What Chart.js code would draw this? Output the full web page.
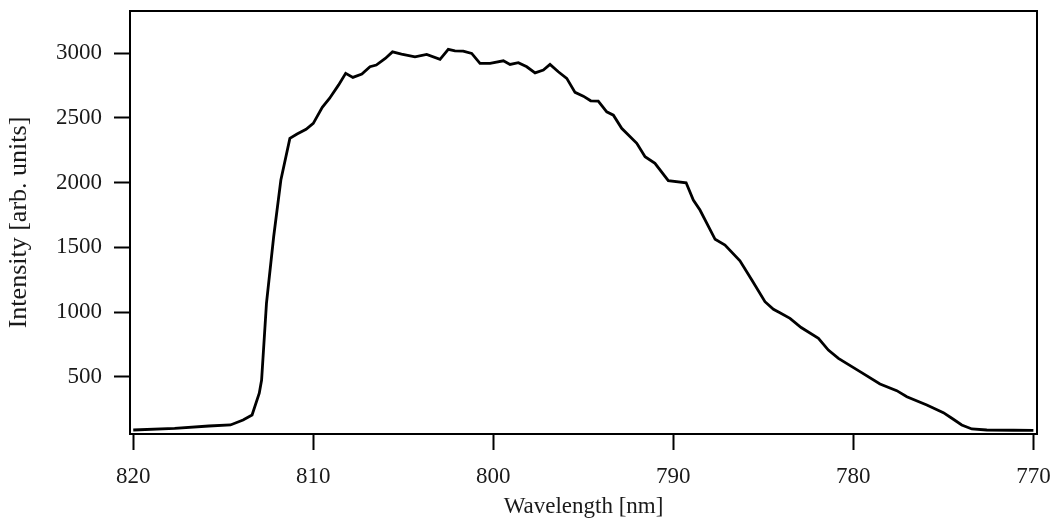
<!DOCTYPE html>
<html>
<head>
<meta charset="utf-8">
<script src="https://cdn.jsdelivr.net/npm/chart.js@4"></script>
<style>
  html, body { margin: 0; padding: 0; background: #fff; }
  canvas { display: block; }
</style>
</head>
<body>
<canvas id="spectrum-chart" width="1054" height="521"></canvas>
<script>
// wavelength in nm (decreasing to the right)
const wavelengths = [
  820.0, 817.7, 815.8, 814.6, 813.9, 813.4, 813.0, 812.87, 812.6, 812.2,
  811.8, 811.3, 810.9, 810.4, 810.0, 809.5, 809.1, 808.6, 808.2, 807.8,
  807.3, 806.85, 806.5, 806.0, 805.6, 805.1, 804.35, 803.7, 802.96, 802.5,
  802.13, 801.67, 801.2, 800.74, 800.18, 799.44, 799.07, 798.61, 798.14, 797.68,
  797.22, 796.85, 796.39, 795.92, 795.46, 795.0, 794.59, 794.17, 793.7, 793.33,
  792.87, 792.03, 791.57, 791.02, 790.28, 789.29, 788.89, 788.52, 787.68, 787.13,
  786.3, 785.64, 784.91, 784.44, 784.08, 783.52, 782.9, 781.94, 781.39, 780.83,
  779.63, 778.52, 777.59, 777.03, 775.92, 775.0, 774.53, 773.98, 773.42, 772.59,
  771.11, 770.0
];
const intensities = [
  88, 101, 119, 127, 165, 204, 372, 474, 1067, 1582,
  2020, 2342, 2376, 2412, 2458, 2582, 2651, 2754, 2845, 2814,
  2839, 2896, 2909, 2960, 3011, 2994, 2973, 2991, 2953, 3030,
  3019, 3017, 2999, 2922, 2922, 2942, 2914, 2927, 2896, 2849,
  2870, 2914, 2857, 2806, 2698, 2669, 2633, 2631, 2548, 2522,
  2420, 2304, 2200, 2149, 2015, 1999, 1866, 1788, 1562, 1518,
  1396, 1247, 1080, 1021, 995, 951, 880, 797, 706, 642,
  539, 444, 392, 345, 281, 222, 179, 127, 96, 88,
  86, 85
];
const xTicks = [820, 810, 800, 790, 780, 770];
const yTicks = [500, 1000, 1500, 2000, 2500, 3000];

const points = wavelengths.map((w, i) => ({ x: w, y: intensities[i] }));

const textColor = '#1a1a1a';
const serif = '"Liberation Serif", "Times New Roman", serif';
const tickFont = { family: serif, size: 23 };

// closed frame around the plot area
const framePlugin = {
  id: 'frame',
  afterDraw(chart) {
    const { ctx, chartArea: a } = chart;
    ctx.save();
    ctx.strokeStyle = '#000';
    ctx.lineWidth = 2;
    ctx.strokeRect(a.left, a.top, a.right - a.left, a.bottom - a.top);
    ctx.restore();
  }
};

new Chart(document.getElementById('spectrum-chart'), {
  type: 'line',
  data: {
    datasets: [{
      data: points,
      borderColor: '#000',
      borderWidth: 2.8,
      pointRadius: 0,
      tension: 0,
      fill: false
    }]
  },
  options: {
    responsive: false,
    animation: false,
    layout: { padding: { top: 11, right: 17, bottom: 0, left: 0 } },
    plugins: { legend: { display: false }, tooltip: { enabled: false } },
    scales: {
      x: {
        type: 'linear',
        reverse: true,
        min: 769.8,
        max: 820.18,
        afterBuildTicks: scale => { scale.ticks = xTicks.map(v => ({ value: v })); },
        afterFit: scale => {
          scale.height = 87;
          scale.paddingLeft = 0;
          scale.paddingRight = 0;
        },
        border: { display: false },
        grid: { drawOnChartArea: false, tickLength: 16, tickWidth: 2, tickColor: '#000' },
        ticks: { color: textColor, font: tickFont, padding: 13, maxRotation: 0, callback: v => String(v) },
        title: {
          display: true,
          text: 'Wavelength [nm]',
          color: textColor,
          font: tickFont,
          padding: { top: 0, bottom: 0 }
        }
      },
      y: {
        type: 'linear',
        min: 57,
        max: 3327,
        afterBuildTicks: scale => { scale.ticks = yTicks.map(v => ({ value: v })); },
        afterFit: scale => {
          scale.width = 130;
          scale.paddingTop = 0;
          scale.paddingBottom = 0;
        },
        border: { display: false },
        grid: { drawOnChartArea: false, tickLength: 16, tickWidth: 2, tickColor: '#000' },
        ticks: { color: textColor, font: tickFont, padding: 12, callback: v => String(v) },
        title: {
          display: true,
          text: 'Intensity [arb. units]',
          color: textColor,
          font: { family: serif, size: 26 },
          padding: { top: 4, bottom: 4 }
        }
      }
    }
  },
  plugins: [framePlugin]
});
</script>
</body>
</html>
